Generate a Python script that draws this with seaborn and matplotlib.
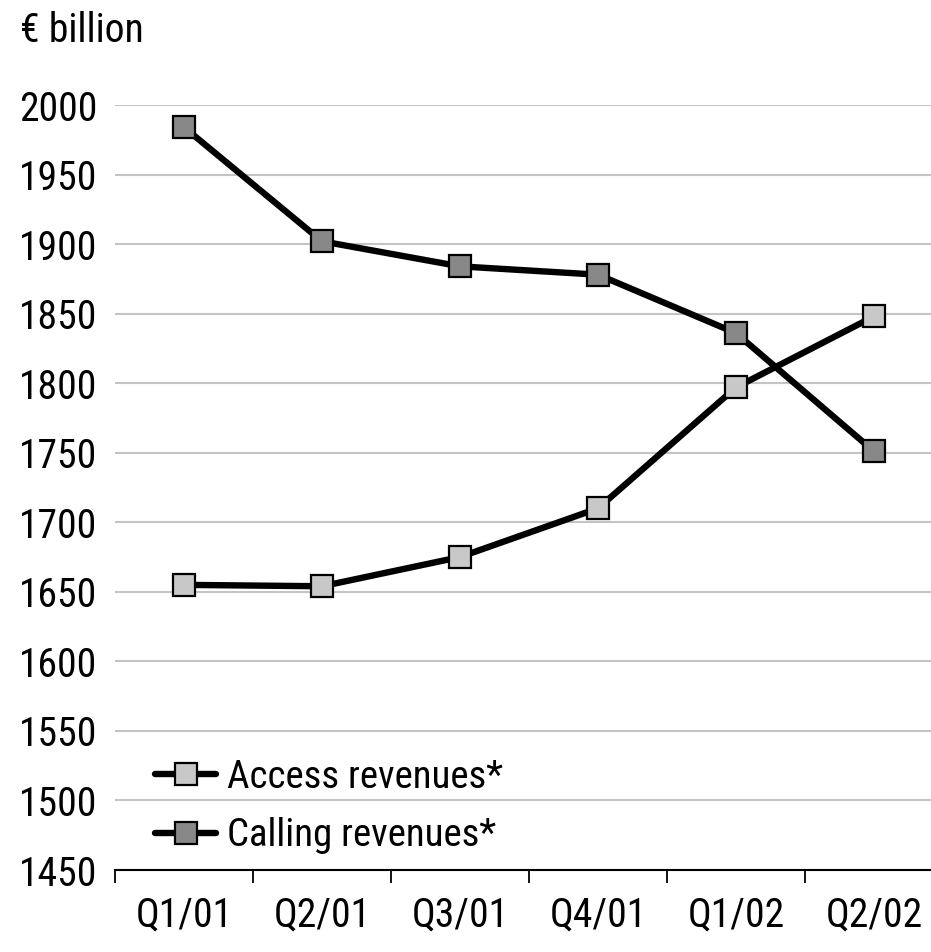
import matplotlib
matplotlib.use('Agg')
import pandas as pd
import seaborn as sns
import matplotlib.pyplot as plt

# data
quarters = ['Q1/01', 'Q2/01', 'Q3/01', 'Q4/01', 'Q1/02', 'Q2/02']
access = [1655, 1654, 1675, 1710, 1797, 1848]
calling = [1984, 1902, 1884, 1878, 1836, 1751]
yticks = list(range(1450, 2001, 50))

df = pd.DataFrame({'quarter': quarters, 'Access revenues*': access, 'Calling revenues*': calling})

sns.set_style('white')
plt.rcParams['font.family'] = ['Roboto Condensed', 'DejaVu Sans']
plt.rcParams['text.color'] = 'black'
plt.rcParams['xtick.color'] = 'black'
plt.rcParams['ytick.color'] = 'black'

fig = plt.figure(figsize=(9.31, 9.52), dpi=100)
ax = fig.add_axes([115/931, 82/952, 828/931, 765/952])

# one line per series, square markers with their own fill
sns.lineplot(x=range(len(quarters)), y=df['Access revenues*'], ax=ax, color='black', lw=4.6,
             marker='s', markersize=16.5, markerfacecolor='#c8c8c8', markeredgecolor='black',
             markeredgewidth=1.6, label='Access revenues*')
sns.lineplot(x=range(len(quarters)), y=df['Calling revenues*'], ax=ax, color='black', lw=4.6,
             marker='s', markersize=16.5, markerfacecolor='#888888', markeredgecolor='black',
             markeredgewidth=1.6, label='Calling revenues*')

ax.set_xlim(-0.5, 5.5)
ax.set_ylim(1450, 2000)
ax.set_yticks(yticks)
ax.set_yticklabels([str(v) for v in yticks])
ax.set_xticks(range(len(quarters)))
ax.set_xticklabels(quarters)
ax.set_xticks([-0.5, 0.5, 1.5, 2.5, 3.5, 4.5], minor=True)
ax.tick_params(axis='x', which='major', bottom=False, pad=15, labelsize=28.5)
ax.tick_params(axis='x', which='minor', bottom=True, length=9, width=1.3, direction='out', color='black')
ax.tick_params(axis='y', left=False, pad=9, labelsize=28.5)
ax.set_xlabel('')
ax.set_ylabel('')

ax.grid(axis='y', color='#c4c4c4', lw=1.5)
ax.grid(axis='x', visible=False)
for s in ['top', 'right', 'left']:
    ax.spines[s].set_visible(False)
ax.spines['bottom'].set_color('black')
ax.spines['bottom'].set_linewidth(1.5)

leg = ax.legend(loc='lower left', bbox_to_anchor=(0.03, 0.0), frameon=False, fontsize=28,
                handlelength=1.55, handletextpad=0.3, labelspacing=0.55, borderaxespad=0)

fig.text(20/931, 1 - 30/952, '€ billion', fontsize=28.5, va='center', ha='left')

fig.savefig('out.png', dpi=100)
